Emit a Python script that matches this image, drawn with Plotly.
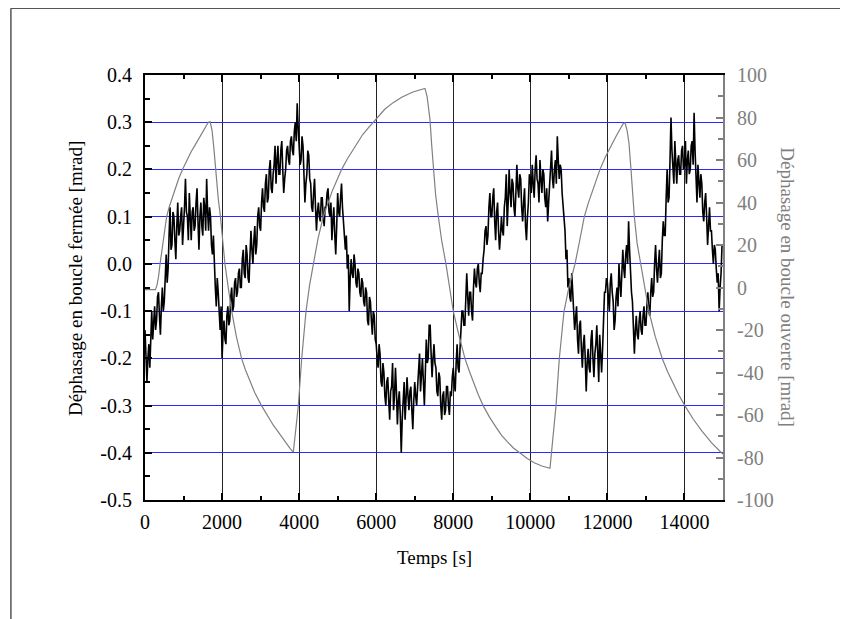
import plotly.graph_objects as go

# ---------------- data ----------------
time_step_s = 25
closed_loop_mrad = [
    # 0 - 975
    -0.14, -0.19, -0.25, -0.20, -0.17, -0.22, -0.13, -0.10, -0.16, -0.12, -0.09, -0.14, -0.12, -0.07, -0.06, -0.11, -0.15, -0.09, -0.05, -0.10,
    -0.08, -0.03, 0.02, -0.04, -0.01, 0.06, 0.12, 0.03, 0.04, 0.11, 0.10, 0.05, 0.01, 0.08, 0.13, 0.06, 0.07, 0.10, 0.12, 0.04,
    # 1000 - 1975
    0.07, 0.12, 0.18, 0.11, 0.10, 0.05, 0.15, 0.09, 0.05, 0.11, 0.12, 0.07, 0.08, 0.13, 0.16, 0.09, 0.03, 0.10, 0.13, 0.08,
    0.06, 0.14, 0.12, 0.07, 0.18, 0.11, 0.07, 0.12, 0.10, 0.04, 0.02, 0.06, -0.02, -0.05, -0.09, -0.03, -0.06, -0.12, -0.14, -0.09,
    # 2000 - 2975
    -0.20, -0.15, -0.12, -0.16, -0.17, -0.11, -0.09, -0.13, -0.12, -0.07, -0.05, -0.10, -0.09, -0.04, -0.03, -0.07, -0.06, -0.02, -0.01, -0.05,
    -0.05, 0.01, 0.03, -0.02, -0.03, 0.04, 0.02, -0.03, -0.04, 0.02, 0.07, 0.03, 0.00, 0.05, 0.08, 0.02, 0.04, 0.10, 0.12, 0.08,
    # 3000 - 3975
    0.07, 0.13, 0.16, 0.12, 0.11, 0.17, 0.19, 0.13, 0.14, 0.20, 0.22, 0.16, 0.15, 0.19, 0.21, 0.25, 0.17, 0.22, 0.25, 0.19,
    0.19, 0.24, 0.26, 0.20, 0.15, 0.18, 0.20, 0.24, 0.25, 0.22, 0.21, 0.26, 0.27, 0.24, 0.23, 0.28, 0.30, 0.26, 0.34, 0.29,
    # 4000 - 4975
    0.26, 0.21, 0.22, 0.27, 0.25, 0.20, 0.13, 0.17, 0.19, 0.24, 0.23, 0.18, 0.17, 0.12, 0.11, 0.15, 0.18, 0.12, 0.07, 0.11,
    0.13, 0.10, 0.09, 0.14, 0.14, 0.10, 0.08, 0.12, 0.12, 0.15, 0.16, 0.11, 0.10, 0.13, 0.05, 0.09, 0.12, 0.06, 0.02, 0.08,
    # 5000 - 5975
    0.15, 0.11, 0.10, 0.14, 0.17, 0.12, 0.08, 0.04, 0.03, 0.06, -0.01, 0.02, -0.10, -0.03, 0.01, -0.02, -0.03, 0.02, 0.00, -0.04,
    -0.05, -0.01, -0.02, -0.06, -0.07, -0.03, -0.04, -0.08, -0.09, -0.05, -0.06, -0.12, -0.13, -0.07, -0.08, -0.12, -0.15, -0.10, -0.11, -0.16,
    # 6000 - 6975
    -0.17, -0.20, -0.22, -0.17, -0.19, -0.25, -0.26, -0.21, -0.23, -0.28, -0.30, -0.25, -0.24, -0.29, -0.33, -0.27, -0.26, -0.21, -0.31, -0.28,
    -0.22, -0.27, -0.34, -0.29, -0.27, -0.32, -0.40, -0.33, -0.28, -0.25, -0.33, -0.29, -0.24, -0.28, -0.31, -0.27, -0.26, -0.31, -0.35, -0.29,
    # 7000 - 7975
    -0.25, -0.28, -0.30, -0.26, -0.22, -0.19, -0.27, -0.24, -0.20, -0.25, -0.30, -0.23, -0.16, -0.21, -0.20, -0.13, -0.13, -0.19, -0.24, -0.20,
    -0.17, -0.21, -0.22, -0.27, -0.28, -0.23, -0.24, -0.30, -0.33, -0.28, -0.27, -0.32, -0.31, -0.26, -0.26, -0.30, -0.32, -0.27, -0.28, -0.24,
    # 8000 - 8975
    -0.22, -0.25, -0.27, -0.21, -0.17, -0.22, -0.23, -0.18, -0.14, -0.10, -0.10, -0.13, -0.13, -0.08, -0.02, -0.07, -0.11, -0.06, -0.06, -0.10,
    -0.12, -0.05, -0.01, -0.04, -0.05, -0.01, 0.00, -0.04, -0.06, -0.02, -0.02, 0.01, 0.03, 0.07, 0.08, 0.04, 0.06, 0.12, 0.15, 0.10,
    # 9000 - 9975
    0.10, 0.14, 0.16, 0.09, 0.05, 0.11, 0.13, 0.07, 0.03, 0.06, 0.10, 0.07, 0.06, 0.12, 0.14, 0.19, 0.08, 0.13, 0.20, 0.15,
    0.12, 0.18, 0.17, 0.12, 0.10, 0.15, 0.21, 0.16, 0.14, 0.19, 0.18, 0.12, 0.09, 0.13, 0.16, 0.08, 0.05, 0.10, 0.13, 0.19,
    # 10000 - 10975
    0.18, 0.15, 0.21, 0.17, 0.14, 0.20, 0.23, 0.18, 0.17, 0.13, 0.22, 0.18, 0.15, 0.20, 0.19, 0.14, 0.12, 0.16, 0.09, 0.13,
    0.17, 0.21, 0.24, 0.18, 0.16, 0.20, 0.22, 0.17, 0.27, 0.22, 0.18, 0.21, 0.20, 0.15, 0.12, 0.08, 0.07, 0.01, 0.03, -0.05,
    # 11000 - 11975
    -0.03, -0.07, -0.08, -0.02, -0.05, -0.10, -0.14, -0.11, -0.09, -0.16, -0.19, -0.13, -0.12, -0.18, -0.22, -0.17, -0.15, -0.20, -0.27, -0.21,
    -0.18, -0.22, -0.23, -0.16, -0.14, -0.20, -0.24, -0.19, -0.17, -0.13, -0.21, -0.25, -0.15, -0.19, -0.23, -0.18, -0.10, -0.06, -0.06, -0.03,
    # 12000 - 12975
    -0.04, -0.08, -0.10, -0.04, -0.02, -0.06, -0.08, -0.14, -0.12, -0.07, -0.05, -0.09, 0.00, -0.04, -0.07, -0.02, 0.03, -0.01, -0.03, 0.02,
    0.04, 0.00, 0.09, 0.03, -0.02, -0.06, -0.08, -0.13, -0.19, -0.14, -0.11, -0.15, -0.16, -0.12, -0.10, -0.14, -0.15, -0.11, -0.09, -0.13,
    # 13000 - 13975
    -0.13, -0.09, -0.06, -0.10, -0.11, -0.06, -0.03, -0.07, -0.06, 0.00, 0.04, -0.01, -0.04, 0.00, 0.03, -0.03, -0.02, 0.05, 0.09, 0.06,
    0.06, 0.14, 0.20, 0.13, 0.14, 0.22, 0.31, 0.24, 0.21, 0.17, 0.26, 0.21, 0.17, 0.22, 0.23, 0.19, 0.19, 0.24, 0.25, 0.20,
    # 14000 - 15000
    0.21, 0.26, 0.17, 0.22, 0.24, 0.19, 0.20, 0.25, 0.26, 0.21, 0.32, 0.24, 0.18, 0.13, 0.21, 0.17, 0.14, 0.19, 0.17, 0.11,
    0.09, 0.13, 0.15, 0.10, 0.04, 0.08, 0.12, 0.07, 0.07, 0.03, 0.00, 0.04, 0.03, -0.01, -0.04, -0.02, -0.10, -0.05, -0.02, 0.04,
    0.04,
]
closed_loop_time_s = [i * time_step_s for i in range(len(closed_loop_mrad))]

open_loop_time_s = [
    0, 270, 310, 350, 390, 470, 562, 630, 700, 800, 880, 977, 1090, 1200, 1300, 1400, 1520, 1643, 1690,
    1740, 1790, 1840, 1900, 1960, 2020, 2075, 2160, 2249, 2370, 2508, 2600, 2700, 2850,
    3027, 3180, 3330, 3480, 3630, 3763, 3849, 3910, 3979, 4066, 4178, 4270, 4368, 4490,
    4628, 4740, 4850, 4980, 5104, 5250, 5400, 5520, 5650, 5790, 5925, 6080, 6228, 6440, 6661, 6950, 7266,
    7320, 7370, 7396, 7440, 7483, 7540, 7612, 7700, 7811, 7900, 8001, 8140, 8304,
    8420, 8530, 8650, 8780, 8940, 9100, 9250, 9400, 9560, 9732, 9920, 10100, 10300, 10510,
    10560, 10610, 10666, 10752, 10873, 11000, 11159, 11280, 11401, 11500, 11600, 11700, 11808,
    11950, 12100, 12250, 12413, 12457, 12510, 12560, 12612, 12699, 12770, 12863, 12960, 13079,
    13240, 13425, 13560, 13700, 13850, 14013, 14230, 14450, 14700, 14965, 15000,
]
open_loop_mrad = [
    -1, -1, 1, 5, 11, 22, 33.4, 38, 42, 47, 51.5, 55.6, 60, 64, 67, 70, 74, 77.8, 78,
    74, 65, 54, 42, 33, 21, 11, 0, -11, -23, -33.5, -38.5, -43, -49.5,
    -55.7, -60.5, -64.8, -68.5, -72.5, -75.7, -77.5, -68, -55.7, -33.5, -11.3, 1, 11, 23,
    33.4, 39.5, 45, 50.5, 55.6, 60.5, 65, 68.5, 72, 75, 77.8, 81, 84, 87, 89.5, 92, 93.7,
    90, 84, 79, 67, 55.6, 44, 33.4, 22, 11, 0, -11.3, -22, -33.5,
    -39.5, -45, -50.5, -55.7, -61, -65.5, -69.5, -72.5, -75.5, -77.9, -80.5, -82.5, -84, -85.1,
    -76, -66, -55.7, -33.5, -11.3, 0, 11, 22, 33.4, 39.5, 45, 50.5, 55.6,
    61.5, 67, 72, 77.2, 77.5, 74, 68, 55.6, 33.4, 21, 11, 0, -11.3,
    -23, -33.5, -39.5, -45, -50.5, -55.7, -62, -67.5, -73, -77.9, -78.3,
]

x_title = "Temps [s]"
y_left_title = "Déphasage en boucle fermée [mrad]"
y_right_title = "Déphasage en boucle ouverte [mrad]"

y_left_ticks = [-0.5, -0.4, -0.3, -0.2, -0.1, 0.0, 0.1, 0.2, 0.3, 0.4]
y_left_labels = ["-0.5", "-0.4", "-0.3", "-0.2", "-0.1", "0.0", "0.1", "0.2", "0.3", "0.4"]
y_right_ticks = [-100, -80, -60, -40, -20, 0, 20, 40, 60, 80, 100]
y_right_labels = ["-100", "-80", "-60", "-40", "-20", "0", "20", "40", "60", "80", "100"]

# ---------------- figure ----------------
FONT = "Liberation Serif"
GRAY = "#808080"
TICK_SIZE = 20
TITLE_SIZE = 19

fig = go.Figure()
fig.add_trace(go.Scatter(
    x=open_loop_time_s, y=open_loop_mrad, mode="lines",
    line=dict(color=GRAY, width=1.2), yaxis="y2", showlegend=False,
))
fig.add_trace(go.Scatter(
    x=closed_loop_time_s, y=closed_loop_mrad, mode="lines",
    line=dict(color="black", width=1.6), showlegend=False,
))

fig.update_layout(
    width=840, height=611,
    margin=dict(l=137, r=125, t=67, b=119),
    paper_bgcolor="white", plot_bgcolor="white",
    font=dict(family=FONT, size=TICK_SIZE, color="black"),
    xaxis=dict(
        range=[0, 15000], tickmode="linear", tick0=0, dtick=2000, tickformat="d",
        ticks="inside", ticklen=7, tickwidth=1.5, tickcolor="black",
        showline=True, linecolor="black", linewidth=2, mirror="ticks",
        showgrid=True, gridcolor="#222222", gridwidth=1, zeroline=False,
        minor=dict(dtick=1000, ticks="inside", ticklen=4, tickcolor="black", showgrid=False),
        tickfont=dict(family=FONT, size=TICK_SIZE, color="black"),
        ticklabelstandoff=3,
    ),
    yaxis=dict(
        range=[-0.5, 0.4], tickmode="array", tickvals=y_left_ticks, ticktext=y_left_labels,
        ticks="inside", ticklen=7, tickwidth=1.5, tickcolor="black",
        showline=True, linecolor="black", linewidth=2, mirror=False,
        showgrid=True, gridcolor="#2828ff", gridwidth=1, zeroline=False,
        minor=dict(dtick=0.05, tick0=0, ticks="inside", ticklen=5, tickcolor="black", showgrid=False),
        tickfont=dict(family=FONT, size=TICK_SIZE, color="black"),
        ticklabelstandoff=7,
    ),
    yaxis2=dict(
        range=[-100, 100], tickmode="array", tickvals=y_right_ticks, ticktext=y_right_labels,
        overlaying="y", side="right",
        ticks="inside", ticklen=7, tickwidth=1.5, tickcolor=GRAY,
        showline=True, linecolor=GRAY, linewidth=2,
        showgrid=False, zeroline=False,
        minor=dict(dtick=10, tick0=0, ticks="inside", ticklen=5, tickcolor=GRAY, showgrid=False),
        tickfont=dict(family=FONT, size=TICK_SIZE, color=GRAY),
        ticklabelstandoff=8,
    ),
    annotations=[
        dict(text=x_title, xref="paper", yref="paper", x=0.5, y=-0.135,
             showarrow=False, xanchor="center", yanchor="middle",
             font=dict(family=FONT, size=TITLE_SIZE, color="black")),
        dict(text=y_left_title, xref="paper", yref="paper", x=-0.121, y=0.52,
             showarrow=False, textangle=-90, xanchor="center", yanchor="middle",
             font=dict(family=FONT, size=TITLE_SIZE, color="black")),
        dict(text=y_right_title, xref="paper", yref="paper", x=1.111, y=0.5,
             showarrow=False, textangle=90, xanchor="center", yanchor="middle",
             font=dict(family=FONT, size=TITLE_SIZE, color=GRAY)),
    ],
    shapes=[
        dict(type="line", xref="paper", yref="paper", x0=-0.232, x1=1.25,
             y0=1.157, y1=1.157, line=dict(color="#555555", width=1.5)),
        dict(type="line", xref="paper", yref="paper", x0=-0.232, x1=-0.232,
             y0=1.157, y1=-0.3, line=dict(color="#555555", width=1.5)),
    ],
)

fig.write_html("out.html")
